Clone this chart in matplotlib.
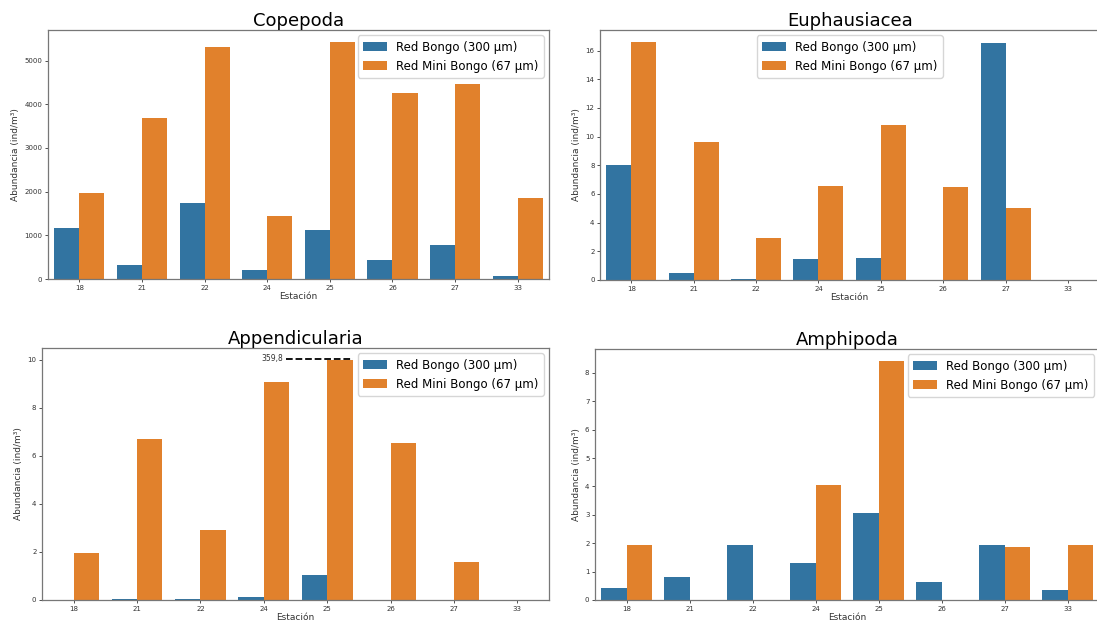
import numpy as np
from matplotlib import pyplot as plt

estaciones = ["18", "21", "22", "24", "25", "26", "27", "33"]

copepoda_bongo = [1170, 310, 1730, 210, 1120, 440, 780, 70]
copepoda_mini = [1960, 3680, 5310, 1450, 5430, 4260, 4460, 1850]

euphausiacea_bongo = [8.0, 0.5, 0.08, 1.45, 1.5, 0, 16.5, 0]
euphausiacea_mini = [16.6, 9.6, 2.9, 6.55, 10.8, 6.5, 5.0, 0]

appendicularia_bongo = [0, 0.05, 0.03, 0.12, 1.05, 0, 0.02, 0]
appendicularia_mini = [1.95, 6.72, 2.9, 9.08, 359.8, 6.55, 1.57, 0]

amphipoda_bongo = [0.43, 0.8, 1.95, 1.3, 3.05, 0.65, 1.93, 0.35]
amphipoda_mini = [1.95, 0, 0, 4.05, 8.42, 0, 1.88, 1.95]

BLUE = "#3274a1"
ORANGE = "#e1812c"
LABELS = ["Red Bongo (300 µm)", "Red Mini Bongo (67 µm)"]


def draw_panel(ax, title, bongo, mini, legend_loc="upper right", cap=None):
    """Grouped bars per station, seaborn-like."""
    x = np.arange(len(estaciones))
    mini = np.array(mini, dtype=float)
    if cap is not None:
        mini = np.minimum(mini, cap)
    ax.bar(x - 0.2, bongo, width=0.4, color=BLUE, label=LABELS[0])
    ax.bar(x + 0.2, mini, width=0.4, color=ORANGE, label=LABELS[1])
    ax.set_xlim(-0.5, len(estaciones) - 0.5)
    ax.set_xticks(x)
    ax.set_xticklabels(estaciones)
    ax.tick_params(labelsize=5, colors="#333333", length=2.5, width=0.6, pad=1.5)
    for s in ax.spines.values():
        s.set_color("#777777")
        s.set_linewidth(0.9)
    ax.set_title(title, fontsize=13, pad=3)
    ax.set_xlabel("Estación", fontsize=6.5, labelpad=1, color="#333333")
    ax.set_ylabel("Abundancia (ind/m³)", fontsize=6.5, labelpad=3, color="#333333")
    ax.legend(loc=legend_loc, fontsize=8.5, borderaxespad=0.45, borderpad=0.45)


fig = plt.figure(figsize=(10.97, 6.25), dpi=100)
ax1 = fig.add_axes([0.0438, 0.5536, 0.4567, 0.3984])
ax2 = fig.add_axes([0.547, 0.552, 0.455, 0.400])
ax3 = fig.add_axes([0.0383, 0.0400, 0.4622, 0.4032])
ax4 = fig.add_axes([0.5424, 0.0400, 0.4596, 0.4016])

draw_panel(ax1, "Copepoda", copepoda_bongo, copepoda_mini)
draw_panel(ax2, "Euphausiacea", euphausiacea_bongo, euphausiacea_mini, legend_loc="upper center")
draw_panel(ax3, "Appendicularia", appendicularia_bongo, appendicularia_mini, cap=10)
draw_panel(ax4, "Amphipoda", amphipoda_bongo, amphipoda_mini)

# station 25 in Appendicularia is off the scale, mark its real value
ax3.set_ylim(0, 10.5)
ax3.hlines(10.05, 3.35, 4.4, colors="black", linestyles="--", linewidth=1.3, zorder=1)
ax3.text(3.3, 10.05, f"{appendicularia_mini[4]:.1f}".replace(".", ","),
         fontsize=5.5, ha="right", va="center", color="#333333")

fig.savefig("out.png", dpi=100)
